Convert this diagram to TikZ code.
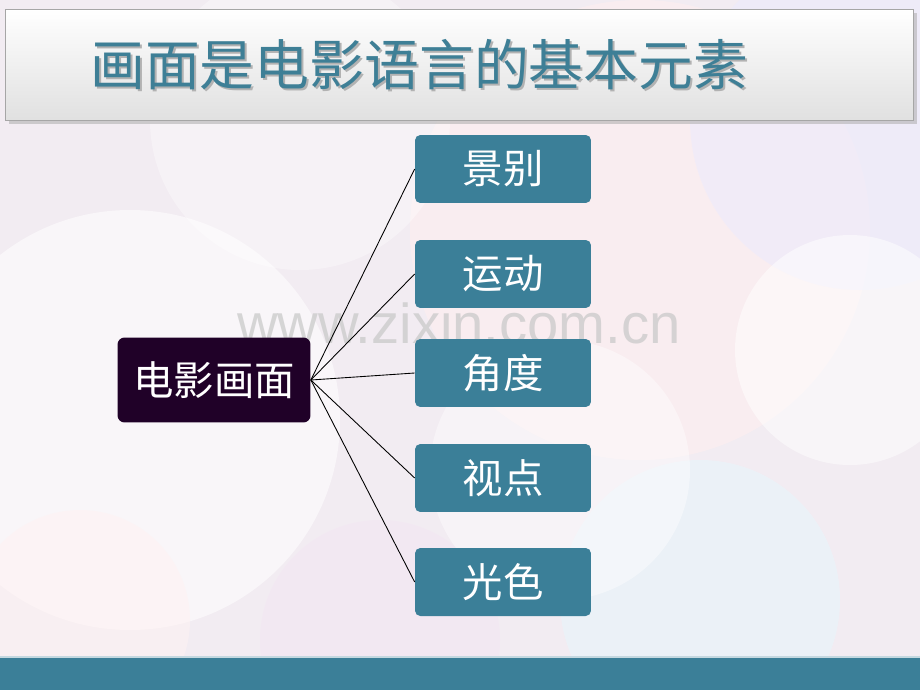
\documentclass[tikz,border=0pt]{standalone}
\usepackage{fontspec}
\setmainfont{Liberation Sans}
\newfontfamily\cjk{Noto Sans CJK SC}
\definecolor{bgbase}{HTML}{F2ECF2}
\definecolor{tealbox}{HTML}{3B7F98}
\definecolor{darkbox}{HTML}{200128}
\definecolor{titleteal}{HTML}{3E7F96}
\tikzset{
  elembox/.style={fill=tealbox, rounded corners=3pt, minimum width=3.52cm, minimum height=1.36cm, text=white, font=\cjk\fontsize{23}{23}\selectfont},
  mainbox/.style={fill=darkbox, rounded corners=4pt, minimum width=3.86cm, minimum height=1.70cm, text=white, font=\cjk\fontsize{23}{23}\selectfont},
  titletext/.style={anchor=west, inner sep=0pt, font=\cjk\fontsize{31.2}{31.2}\selectfont},
  link/.style={draw=black, line width=0.5pt}
}
\begin{document}
\begin{tikzpicture}[x=0.02cm, y=-0.02cm]
\useasboundingbox (0,0) rectangle (920,690);
% background
\fill[bgbase] (0,0) rectangle (920,690);
\fill[pink!25, opacity=0.6] (640,230) circle (230);
\fill[blue!8, opacity=0.5] (860,120) circle (170);
\fill[white, opacity=0.55] (130,420) circle (210);
\fill[white, opacity=0.5] (850,350) circle (115);
\fill[white, opacity=0.35] (300,120) circle (150);
\fill[cyan!10, opacity=0.5] (700,600) circle (140);
\fill[violet!10, opacity=0.5] (380,640) circle (120);
\fill[white, opacity=0.4] (560,470) circle (130);
\fill[pink!20, opacity=0.5] (80,620) circle (110);
% bottom bar
\fill[tealbox] (0,657) rectangle (920,690);
\draw[white!70!tealbox, line width=1pt] (0,657) -- (920,657);
% title
\fill[black!30, opacity=0.6] (9,13) rectangle (917,124);
\shade[top color=white, bottom color=black!12, draw=black!35] (5,9) rectangle (913,120);
\node[titletext, text=black!30] (titleshadow) at (92,67) {画面是电影语言的基本元素};
\node[titletext, text=titleteal] (title) at (90,65) {画面是电影语言的基本元素};
% watermark
\node[text=black!22, opacity=0.7, inner sep=0pt, anchor=base, font=\fontsize{32}{32}\selectfont] (mark) at (459,343) {www.zixin.com.cn};
% diagram
\node[mainbox] (main) at (214,380) {电影画面};
\def\elem#1#2#3{
\node[elembox] (#1) at (503,#2) {#3};
\draw[link] (main.east) -- (#1.west);
}
\elem{jingbie}{169}{景别}
\elem{yundong}{274}{运动}
\elem{jiaodu}{373}{角度}
\elem{shidian}{478}{视点}
\elem{guangse}{582}{光色}
\end{tikzpicture}
\end{document}
